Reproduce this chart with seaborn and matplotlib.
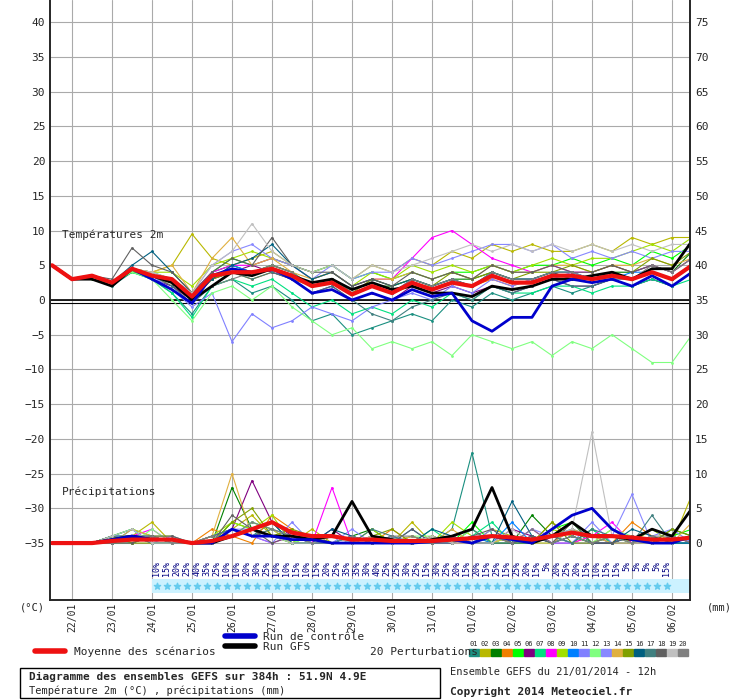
import numpy as np
import pandas as pd
import matplotlib
matplotlib.use('Agg')
import matplotlib.pyplot as plt
import seaborn as sns

sns.set_style('white')
plt.rcParams['font.family'] = ['DejaVu Sans Mono']

# 12h steps from 21/01 12h to 06/02 12h
hours = list(range(0, 385, 12))
day_labels = ['22/01', '23/01', '24/01', '25/01', '26/01', '27/01', '28/01', '29/01',
              '30/01', '31/01', '01/02', '02/02', '03/02', '04/02', '05/02', '06/02']

t_mean = [5, 3, 3.5, 2.5, 4.5, 3.5, 3, 0.5, 3.5, 4, 4, 4.5, 3.5, 2, 2.5, 0.8, 2, 1, 2.5, 1.5, 2.5, 2, 3.5, 2.5, 2.5, 3.5, 3.5, 3, 3.5, 3, 4, 3, 5]
t_ctrl = [5, 3, 3.5, 2.5, 4.5, 3, 1.5, -0.5, 3.5, 4.5, 4, 4.5, 3, 1, 1.5, 0, 1, 0, 1.5, 0.5, 1, -3, -4.5, -2.5, -2.5, 2, 3, 2.5, 3, 2, 3.5, 2, 4]
t_gfs = [5, 3, 3, 2, 4.5, 3.5, 2.5, 0, 2, 4, 3.5, 4.5, 3.5, 2.5, 3, 1.5, 2.5, 1.5, 2, 1, 1, 0.5, 2, 1.5, 2, 3, 3, 3.5, 4, 3, 4.5, 4.5, 8.5]

t_pert = [
    [5, 3, 3.5, 2, 4, 3, 1, -2, 2, 3, 1, 2, 0, -3, -2, -5, -4, -3, -2, -3, 0, -1, 1, 0, 1, 2, 1, 2, 3, 2, 3, 2, 4],
    [5, 3, 3.5, 2.5, 4.5, 4, 5, 9.5, 6, 5, 6, 7, 5, 4, 5, 3, 5, 4, 6, 5, 7, 6, 8, 7, 8, 7, 7, 8, 7, 9, 8, 9, 9],
    [5, 3, 3, 2.5, 4, 3.5, 3, 1, 4, 5, 4, 5, 4, 2, 3, 1, 2, 2, 3, 2, 3, 3, 4, 3, 3, 4, 4, 3, 4, 4, 5, 4, 7],
    [5, 3, 3.5, 2.5, 4.5, 3.5, 2, 0, 3, 4, 3, 4, 3, 2, 3, 1, 2, 1, 2, 2, 3, 2, 3, 2, 3, 4, 3, 3, 4, 3, 4, 3, 5],
    [5, 3, 3.5, 2.5, 4.5, 4, 3, 0, 4, 6, 5, 6, 5, 4, 5, 3, 4, 3, 4, 3, 4, 4, 5, 4, 5, 5, 6, 5, 6, 5, 7, 6, 8],
    [5, 3, 3.5, 2.5, 4.5, 3, 2, 0, 3, 4, 5, 4, 3, 1, 2, 0, 1, 0, 2, 1, 2, 1, 2, 1, 2, 3, 2, 2, 3, 2, 3, 2, 4],
    [5, 3, 3.5, 2.5, 4, 3, 1, -2.5, 2, 3, 2, 3, 1, -1, 0, -2, -1, -2, 0, -1, 1, 0, 2, 1, 1, 2, 2, 1, 2, 2, 3, 2, 3],
    [5, 3, 3.5, 2.5, 4.5, 3.5, 3, 1, 4, 5, 5, 6, 5, 3, 4, 2, 3, 3, 6, 9, 10, 8, 6, 5, 4, 5, 4, 4, 5, 4, 5, 4, 6],
    [5, 3, 3.5, 2.5, 4.5, 4, 4, 2, 5, 6, 7, 6, 5, 3, 4, 2, 4, 3, 5, 4, 5, 4, 5, 4, 5, 6, 5, 6, 6, 7, 8, 7, 9],
    [5, 3, 3.5, 2.5, 4.5, 3.5, 3, 0, 3, 5, 4, 5, 4, 2, 3, 1, 2, 1, 3, 2, 3, 2, 4, 3, 3, 4, 4, 3, 3, 4, 4, 3, 5],
    [5, 3, 3.5, 2.5, 4.5, 3.5, 1.5, -1, 1, -6, -2, -4, -3, -1, -2, -3, -1, 0, 1, 0, 2, 1, 3, 2, 3, 3, 4, 3, 4, 3, 4, 3, 5],
    [5, 3, 3.5, 2.5, 4, 3, 0, -3, 1, 2, 0, 2, -1, -3, -5, -4, -7, -6, -7, -6, -8, -5, -6, -7, -6, -8, -6, -7, -5, -7, -9, -9, -5],
    [5, 3, 3.5, 2.5, 4.5, 4, 3, 1, 5, 7, 8, 6, 5, 3, 5, 3, 4, 4, 6, 5, 6, 7, 8, 8, 7, 8, 6, 7, 6, 7, 6, 7, 7],
    [5, 3, 3.5, 2.5, 4.5, 4, 5, 1, 6, 9, 5, 6, 4, 3, 4, 2, 3, 3, 4, 3, 4, 3, 5, 4, 4, 5, 5, 4, 5, 5, 6, 5, 6],
    [5, 3, 3.5, 2.5, 4.5, 3.5, 2.5, 0, 3, 4, 4, 5, 4, 2, 3, 1, 3, 2, 3, 2, 4, 3, 4, 3, 4, 4, 5, 4, 5, 4, 6, 5, 7],
    [5, 3, 3.5, 2.5, 5, 7, 4, 1, 3, 5, 6, 8, 5, 3, 4, 2, 3, 2, 3, 2, 3, 2, 4, 3, 3, 4, 3, 3, 4, 3, 4, 3, 5],
    [5, 3, 3.5, 2.5, 4.5, 3.5, 2, -0.5, 2, 4, 3, 4, 3, 1, 2, 0, -2, -3, -1, 0, 1, 0, 2, 1, 2, 3, 2, 2, 3, 3, 4, 3, 5],
    [5, 3, 3.5, 3, 7.5, 5, 4, 1, 4, 6, 5, 9, 5, 4, 4, 2, 3, 2, 4, 3, 4, 3, 5, 4, 4, 5, 4, 4, 5, 4, 5, 4, 6],
    [5, 3, 3.5, 2.5, 4.5, 4, 3, 1, 5, 7, 11, 7, 5, 4, 5, 3, 5, 4, 5, 6, 7, 8, 7, 8, 7, 8, 7, 8, 7, 8, 7, 8, 8],
    [5, 3, 3.5, 2.5, 4.5, 3.5, 2.5, 0, 2, 3, 4, 5, 4, 2, 3, 1, 2, 1, 3, 2, 3, 2, 4, 3, 3, 4, 4, 3, 4, 3, 5, 4, 6],
]

p_mean = [0, 0, 0, 0.3, 0.5, 0.5, 0.5, 0, 0.3, 1, 2, 3, 1.5, 1, 1, 0.5, 0.5, 0.3, 0.3, 0.3, 0.5, 0.7, 1, 0.8, 0.5, 1, 1.5, 1, 1, 0.8, 0.5, 0.5, 0.8]
p_ctrl = [0, 0, 0, 0.5, 1, 0.5, 0.5, 0, 0, 2, 1, 1, 0.5, 0.5, 0, 0, 0, 0, 0, 0.2, 0.5, 0, 1, 0.5, 0, 2, 4, 5, 2, 0.5, 0, 0, 1]
p_gfs = [0, 0, 0, 0.5, 1, 0.5, 0.5, 0, 0, 1, 2, 1, 1, 0.5, 1, 6, 1, 0.5, 0, 0.5, 1, 2, 8, 1, 0, 1, 3, 1, 1, 0.5, 2, 1, 5]
p_pert = [
    [0, 0, 0, 1, 2, 0, 0, 0, 0, 2, 1, 3, 0, 0, 1, 0, 0, 1, 0, 0, 2, 13, 1, 0, 1, 0, 2, 0, 1, 0, 0, 1, 0],
    [0, 0, 0, 0, 1, 3, 0, 0, 1, 2, 4, 1, 0, 2, 0, 1, 0, 0, 3, 0, 1, 0, 2, 1, 0, 3, 1, 0, 2, 0, 1, 0, 7],
    [0, 0, 0, 1, 0, 1, 0, 0, 0, 8, 2, 1, 1, 0, 0, 1, 2, 0, 0, 1, 0, 2, 0, 0, 4, 1, 0, 2, 0, 1, 0, 2, 1],
    [0, 0, 0, 0, 1, 0, 0, 0, 2, 1, 0, 4, 2, 0, 1, 0, 0, 2, 0, 0, 1, 0, 1, 0, 0, 1, 0, 1, 0, 3, 1, 0, 0],
    [0, 0, 0, 1, 2, 1, 0, 0, 0, 3, 2, 1, 0, 1, 0, 0, 1, 0, 1, 0, 0, 3, 0, 1, 0, 2, 3, 0, 1, 0, 0, 1, 2],
    [0, 0, 0, 0, 0, 1, 0, 0, 1, 2, 9, 3, 1, 0, 2, 0, 0, 0, 1, 0, 1, 0, 0, 2, 1, 0, 1, 0, 0, 1, 0, 0, 1],
    [0, 0, 0, 1, 1, 0, 0, 0, 0, 1, 3, 2, 0, 0, 0, 1, 0, 1, 0, 2, 0, 1, 3, 0, 0, 1, 0, 2, 0, 0, 1, 0, 0],
    [0, 0, 0, 0, 1, 2, 0, 0, 0, 2, 1, 0, 1, 0, 8, 0, 1, 0, 0, 1, 0, 0, 1, 0, 2, 0, 0, 1, 3, 0, 0, 1, 0],
    [0, 0, 0, 1, 0, 1, 1, 0, 1, 3, 2, 4, 0, 1, 0, 0, 2, 0, 0, 0, 3, 1, 0, 1, 0, 2, 1, 0, 1, 0, 2, 0, 1],
    [0, 0, 0, 0, 2, 0, 0, 0, 0, 1, 2, 1, 1, 0, 0, 1, 0, 0, 2, 0, 0, 1, 0, 3, 0, 1, 2, 1, 0, 1, 0, 0, 0],
    [0, 0, 0, 1, 1, 1, 0, 0, 1, 2, 1, 0, 3, 0, 1, 0, 0, 1, 0, 0, 1, 0, 2, 0, 1, 0, 0, 3, 0, 0, 1, 2, 0],
    [0, 0, 0, 0, 0, 2, 0, 0, 0, 1, 3, 2, 0, 1, 0, 0, 1, 0, 1, 1, 0, 2, 0, 1, 0, 0, 1, 0, 2, 1, 0, 0, 1],
    [0, 0, 0, 1, 1, 0, 1, 0, 0, 2, 2, 1, 1, 0, 0, 2, 0, 1, 0, 0, 0, 1, 1, 0, 2, 1, 0, 0, 1, 7, 0, 1, 0],
    [0, 0, 0, 0, 2, 1, 0, 0, 1, 10, 1, 2, 0, 0, 1, 0, 0, 0, 1, 0, 2, 0, 0, 1, 0, 0, 2, 1, 0, 0, 1, 0, 3],
    [0, 0, 0, 1, 0, 0, 0, 0, 0, 3, 5, 1, 2, 1, 0, 0, 1, 2, 0, 1, 0, 0, 1, 0, 0, 3, 0, 0, 1, 0, 0, 2, 1],
    [0, 0, 0, 0, 1, 1, 0, 0, 0, 1, 2, 3, 0, 0, 2, 1, 0, 0, 0, 2, 1, 0, 0, 6, 1, 0, 1, 0, 0, 2, 1, 0, 0],
    [0, 0, 0, 1, 1, 0, 0, 0, 1, 2, 1, 2, 1, 0, 0, 0, 2, 1, 0, 0, 1, 2, 0, 0, 0, 1, 0, 2, 1, 0, 4, 0, 1],
    [0, 0, 0, 0, 0, 1, 1, 0, 0, 4, 2, 0, 1, 1, 0, 0, 0, 0, 2, 0, 0, 1, 2, 0, 1, 0, 3, 0, 0, 1, 0, 1, 0],
    [0, 0, 0, 1, 2, 0, 0, 0, 0, 2, 1, 1, 0, 0, 1, 0, 1, 0, 0, 1, 0, 0, 0, 2, 0, 1, 2, 16, 1, 0, 0, 0, 1],
    [0, 0, 0, 0, 1, 1, 0, 0, 1, 1, 3, 2, 1, 0, 0, 1, 0, 1, 1, 0, 1, 0, 1, 0, 2, 0, 1, 0, 1, 0, 1, 1, 0],
]

pert_colors = ['#1a8f80', '#b8b800', '#008000', '#f08000', '#00ff00', '#800080', '#00e080', '#ff00ff',
               '#a0e000', '#0080ff', '#8080ff', '#80ff80', '#8888ff', '#e0b040', '#80a000', '#006080',
               '#408080', '#606060', '#c0c0c0', '#808080']

snow_pct = [10, 15, 20, 25, 40, 35, 25, 10, 10, 20, 30, 25, 10, 10, 15, 10, 15, 20, 25, 35, 35, 30, 40, 25, 25, 30,
            25, 15, 30, 25, 20, 15, 20, 15, 25, 15, 25, 20, 15, 5, 20, 25, 20, 15, 10, 15, 15, 5, 5, 5, 5, 15]

PRECIP_BASE = -35

fig = plt.figure(figsize=(7.4, 7.0), dpi=100)
ax = fig.add_axes([50 / 740, 100 / 700, 640 / 740, 600 / 700])
ax.set_xlim(-1.2, 382.8)
ax.set_ylim(-43.2, 43.2)

# grid
for d in range(16):
    ax.axvline(12 + 24 * d, color='#aaaaaa', lw=0.8, zorder=0)
for v in range(-35, 45, 5):
    ax.axhline(v, color='#aaaaaa', lw=0.8, zorder=0)
ax.axhline(0, color='black', lw=1.2, zorder=1)
ax.axhline(-0.4, color='black', lw=0.8, zorder=1)

for i in range(20):
    df = pd.DataFrame({'h': hours, 't': t_pert[i]})
    sns.lineplot(data=df, x='h', y='t', ax=ax, color=pert_colors[i], lw=0.8, marker='o', ms=2, mec='none', zorder=2)
    dfp = pd.DataFrame({'h': hours, 'p': np.array(p_pert[i]) + PRECIP_BASE})
    sns.lineplot(data=dfp, x='h', y='p', ax=ax, color=pert_colors[i], lw=0.8, marker='o', ms=2, mec='none', zorder=2)

for tv, pv, col, lw in [(t_gfs, p_gfs, 'black', 2), (t_ctrl, p_ctrl, '#0000cc', 2), (t_mean, p_mean, '#ee1111', 3)]:
    sns.lineplot(x=hours, y=tv, ax=ax, color=col, lw=lw, zorder=3)
    sns.lineplot(x=hours, y=np.array(pv) + PRECIP_BASE, ax=ax, color=col, lw=lw, zorder=3)

# snow band
ax.axhspan(-42.2, -40.2, xmin=(60 + 1.2) / 384, xmax=1, color='#ccf2ff', zorder=1, lw=0)
snow_h = [63 + 6 * k for k in range(len(snow_pct))]
ax.scatter(snow_h, [-41.2] * len(snow_h), s=22, marker='*', color='#66ccee', zorder=2)
for h, pct in zip(snow_h, snow_pct):
    ax.text(h, -37.6, f'{pct}%', rotation=90, ha='center', va='top', fontsize=6, color='#000080')

ax.set_xticks([])
ax.set_yticks(range(-35, 45, 5))
ax.tick_params(axis='y', length=0, labelsize=8)
ax.set_xlabel('')
ax.set_ylabel('')
ax2 = ax.twinx()
ax2.set_ylim(-43.2, 43.2)
ax2.set_yticks(range(-35, 45, 5))
ax2.set_yticklabels([str(v + 35) for v in range(-35, 45, 5)])
ax2.tick_params(axis='y', length=0, labelsize=8)
for a in (ax, ax2):
    for s in a.spines.values():
        s.set_linewidth(1.2)
    a.spines['top'].set_visible(False)

ax.text(6, 9.4, 'Températures 2m', fontsize=8, va='center')
ax.text(6, -27.6, 'Précipitations', fontsize=8, va='center')

# date labels below axes
for d, lab in enumerate(day_labels):
    x = (50 + (12 + 24 * d + 1.2) / 384 * 640) / 740
    fig.text(x, 1 - 603 / 700, lab, rotation=90, ha='center', va='top', fontsize=7)
fig.text(20 / 740, 1 - 607 / 700, '(°C)', fontsize=7.5, va='center')
fig.text(707 / 740, 1 - 607 / 700, '(mm)', fontsize=7.5, va='center')

# legend
def fy(y):
    return 1 - y / 700

fig.add_artist(plt.Line2D([35 / 740, 65 / 740], [fy(651), fy(651)], color='#ee1111', lw=4))
fig.text(74 / 740, fy(652), 'Moyenne des scénarios', fontsize=8, va='center')
fig.add_artist(plt.Line2D([225 / 740, 255 / 740], [fy(636), fy(636)], color='#0000cc', lw=4))
fig.text(263 / 740, fy(637), 'Run de contrôle', fontsize=8, va='center')
fig.add_artist(plt.Line2D([225 / 740, 255 / 740], [fy(646), fy(646)], color='black', lw=4))
fig.text(263 / 740, fy(647), 'Run GFS', fontsize=8, va='center')
fig.text(370 / 740, fy(652), '20 Perturbations', fontsize=8, va='center')
for i, c in enumerate(pert_colors):
    x0 = 469 + i * 11
    fig.add_artist(plt.Rectangle((x0 / 740, fy(656)), 10 / 740, 7 / 700, color=c))
    fig.text((x0 + 5) / 740, fy(644), f'{i + 1:02d}', fontsize=5, ha='center', va='center')

fig.add_artist(plt.Rectangle((20 / 740, fy(698)), 420 / 740, 30 / 700, fill=False, ec='black', lw=1))
fig.text(29 / 740, fy(677), 'Diagramme des ensembles GEFS sur 384h : 51.9N 4.9E', fontsize=8, fontweight='bold', va='center')
fig.text(29 / 740, fy(691), 'Température 2m (°C) , précipitations (mm)', fontsize=7.5, va='center')
fig.text(450 / 740, fy(672), 'Ensemble GEFS du 21/01/2014 - 12h', fontsize=7.5, va='center')
fig.text(450 / 740, fy(692), 'Copyright 2014 Meteociel.fr', fontsize=8, fontweight='bold', va='center')

fig.savefig('out.png', dpi=100)
